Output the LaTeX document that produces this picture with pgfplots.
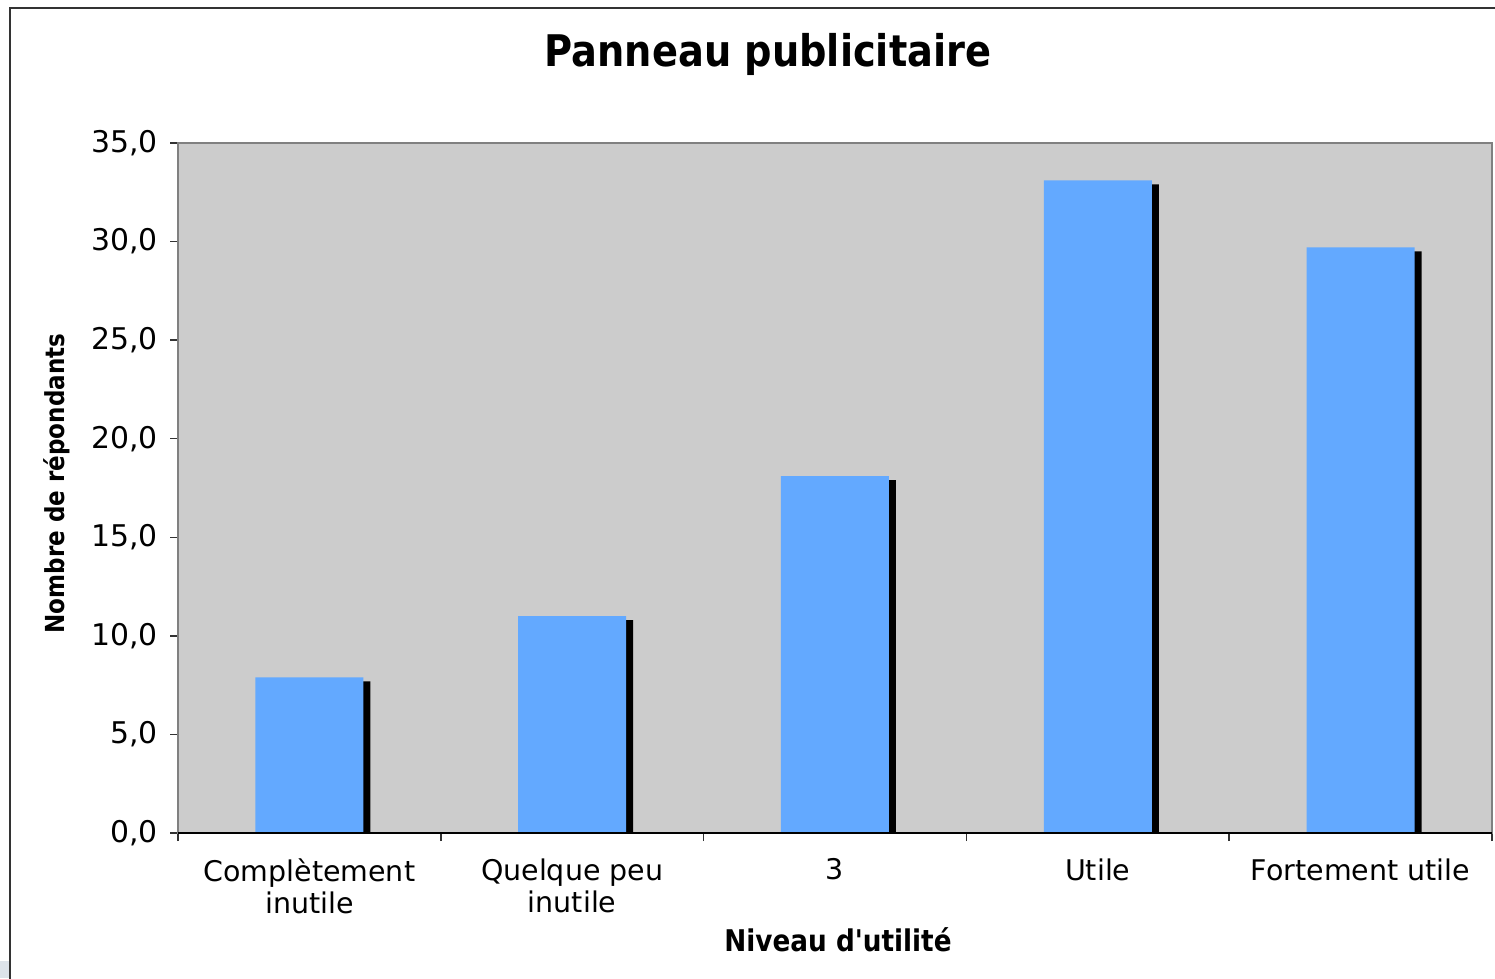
\documentclass[border=0pt]{standalone}
\usepackage{pgfplots}
\pgfplotsset{compat=1.18}
\usepackage{pgfplotstable}
\usepackage{fontspec}
\setmainfont{DejaVu Sans}
\newfontfamily\titlefont[FakeStretch=0.88]{DejaVu Sans}
\definecolor{barblue}{HTML}{63A9FF}
\definecolor{plotgray}{HTML}{CCCCCC}
\definecolor{axgray}{HTML}{808080}
\definecolor{cornerbox}{HTML}{DDE3EA}
\pgfplotstableread{
x y
0 7.9
1 11.0
2 18.1
3 33.1
4 29.7
}\datatable
\begin{document}
\begin{tikzpicture}
\path[use as bounding box] (0,0) rectangle (149.5mm,97.8mm);
\fill[cornerbox] (0,0) rectangle (0.9mm,1.7mm);
\draw[line width=0.2mm, color=black!80] (1mm,-2mm) -- (1mm,97mm) -- (152mm,97mm);
\begin{axis}[
  at={(17.8mm,14.5mm)}, anchor=south west,
  scale only axis, width=131.4mm, height=69mm,
  ybar, bar width=10.8mm,
  xmin=-0.5, xmax=4.5, ymin=0, ymax=35,
  xtick={0,1,2,3,4},
  xticklabels={{Complètement\\inutile},{Quelque peu\\inutile},3,Utile,Fortement utile},
  xticklabel style={align=center, font=\fontsize{8.1}{9.3}\selectfont, text depth=0pt, yshift=-0.5mm},
  minor xtick={-0.5,0.5,1.5,2.5,3.5,4.5},
  ytick={0,5,...,35},
  tick align=outside, tick pos=left,
  major x tick style={draw=none},
  major tick length=0.8mm, minor tick length=0.8mm,
  tick style={black!80, line width=0.15mm},
  axis background/.style={fill=plotgray},
  axis line style={axgray, line width=0.25mm},
  yticklabel style={font=\fontsize{8.5}{9}\selectfont,
    /pgf/number format/.cd, fixed, fixed zerofill, precision=1, use comma, assume math mode=true},
  title={Panneau publicitaire},
  title style={at={(axis description cs:0.449,1.128)}, anchor=center, yshift=0pt, font=\titlefont\bfseries\fontsize{12.4}{14}\selectfont},
  every axis title shift=0pt,
  xlabel={Niveau d'utilité},
  xlabel style={at={(axis description cs:0.5023,-0.155)}, anchor=center, font=\titlefont\bfseries\fontsize{8.5}{9}\selectfont},
  ylabel={Nombre de répondants},
  ylabel style={at={(axis description cs:-0.092,0.5065)}, anchor=center, font=\titlefont\bfseries\fontsize{7.45}{9}\selectfont},
]
\addplot[fill=black, draw=none, bar shift=0.7mm, yshift=-0.4mm] table[x=x,y=y] {\datatable};
\addplot[fill=barblue, draw=none, bar shift=0mm] table[x=x,y=y] {\datatable};
\draw[black, line width=0.15mm] (rel axis cs:0,0) -- (rel axis cs:1,0);
\end{axis}
\end{tikzpicture}
\end{document}
